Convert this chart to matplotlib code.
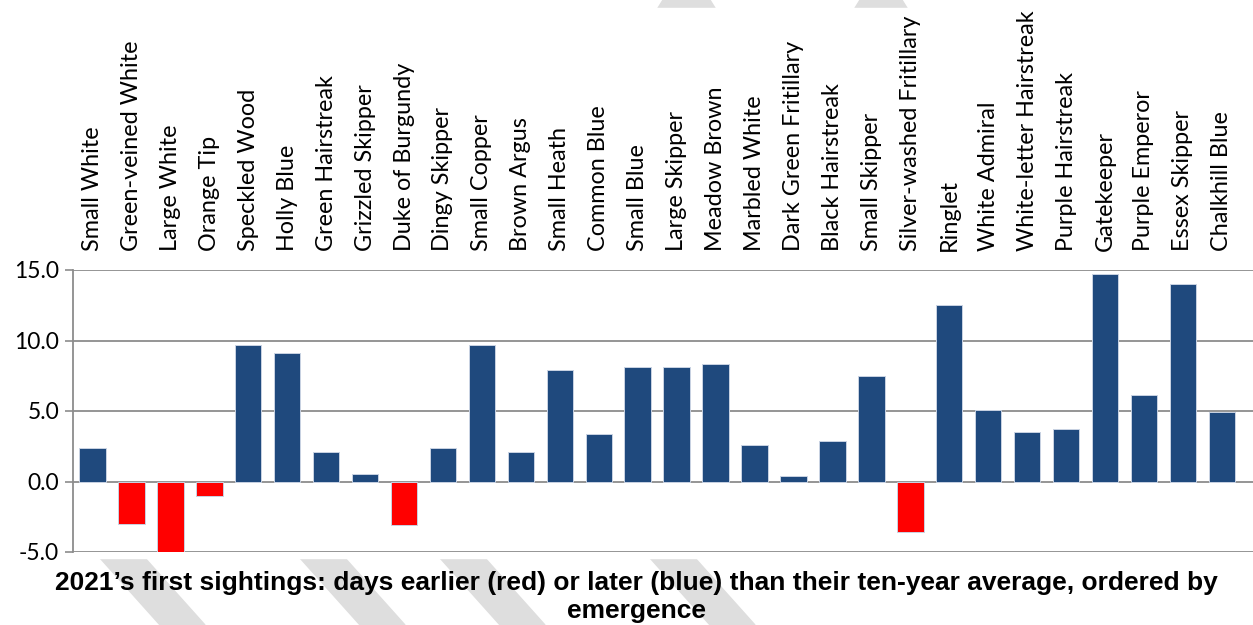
import numpy as np
import matplotlib.pyplot as plt
from matplotlib.patches import Polygon, Rectangle

species = [
    'Small White', 'Green-veined White', 'Large White', 'Orange Tip',
    'Speckled Wood', 'Holly Blue', 'Green Hairstreak', 'Grizzled Skipper',
    'Duke of Burgundy', 'Dingy Skipper', 'Small Copper', 'Brown Argus',
    'Small Heath', 'Common Blue', 'Small Blue', 'Large Skipper',
    'Meadow Brown', 'Marbled White', 'Dark Green Fritillary',
    'Black Hairstreak', 'Small Skipper', 'Silver-washed Fritillary',
    'Ringlet', 'White Admiral', 'White-letter Hairstreak',
    'Purple Hairstreak', 'Gatekeeper', 'Purple Emperor', 'Essex Skipper',
    'Chalkhill Blue',
]
days_diff = [
    2.4, -3.0, -5.0, -1.0, 9.7, 9.1, 2.1, 0.5, -3.1, 2.4,
    9.7, 2.1, 7.9, 3.4, 8.1, 8.1, 8.3, 2.6, 0.4, 2.9,
    7.5, -3.6, 12.5, 5.1, 3.5, 3.7, 14.7, 6.1, 14.0, 4.9,
]
y_ticks = [-5.0, 0.0, 5.0, 10.0, 15.0]

BLUE = '#1f497d'
RED = '#ff0000'
W, H = 1253, 625

fig = plt.figure(figsize=(W / 100, H / 100), dpi=100)

# faint diagonal watermark bands in the margins
band_color = '#dedede'
for x0 in [100, 300, 440, 650]:
    pts = [(x0, 558), (x0 + 45, 558), (x0 + 105, 625), (x0 + 60, 625)]
    fig.add_artist(Polygon([(px / W, 1 - py / H) for px, py in pts],
                           closed=True, color=band_color, zorder=0,
                           transform=fig.transFigure))
for x0, x1 in [(658, 715), (855, 907)]:
    pts = [(x0 + 5, 0), (x1 - 5, 0), (x1, 8), (x0, 8)]
    fig.add_artist(Polygon([(px / W, 1 - py / H) for px, py in pts],
                           closed=True, color=band_color, zorder=0,
                           transform=fig.transFigure))
fig.add_artist(Rectangle((0, 1 - 558 / H), 1, (558 - 8) / H, color='white',
                         zorder=0.5, transform=fig.transFigure))

ax = fig.add_axes([73 / W, 1 - 552 / H, 1 - 73 / W, (552 - 270) / H])
ax.set_zorder(2)
ax.patch.set_alpha(0)

x = np.arange(len(species))
colors = [RED if v < 0 else BLUE for v in days_diff]
ax.bar(x, days_diff, width=0.68, color=colors, edgecolor='#c9d3e3',
       linewidth=0.7, zorder=3)

ax.set_xlim(-0.5, 29.8)
ax.set_ylim(-5, 15)
ax.set_yticks(y_ticks)
ax.set_yticklabels([f'{v:.1f}' for v in y_ticks], fontfamily='Lato',
                   fontsize=16.5)
ax.yaxis.grid(True, color='#8c8c8c', linewidth=1.3, zorder=1)
ax.set_axisbelow(True)
ax.tick_params(axis='y', length=6, color='#8c8c8c', width=1.2, pad=4)

ax.set_xticks(x)
ax.set_xticklabels(species, rotation=90, fontfamily='Lato', fontsize=16.8)
ax.tick_params(axis='x', length=0, top=False, bottom=False,
               labeltop=True, labelbottom=False, pad=14)

for side in ['top', 'right', 'bottom']:
    ax.spines[side].set_visible(False)
ax.spines['left'].set_color('#8c8c8c')
ax.spines['left'].set_linewidth(1.3)

t = fig.text(0.508, 1 - 597 / H,
             '2021\u2019s first sightings: days earlier (red) or later (blue) '
             'than their ten-year average, ordered by\nemergence',
             ha='center', va='center', fontfamily='Liberation Sans',
             fontweight='bold', fontsize=19, linespacing=1.25)
t.set_zorder(3)

fig.savefig('out.png', dpi=100)
